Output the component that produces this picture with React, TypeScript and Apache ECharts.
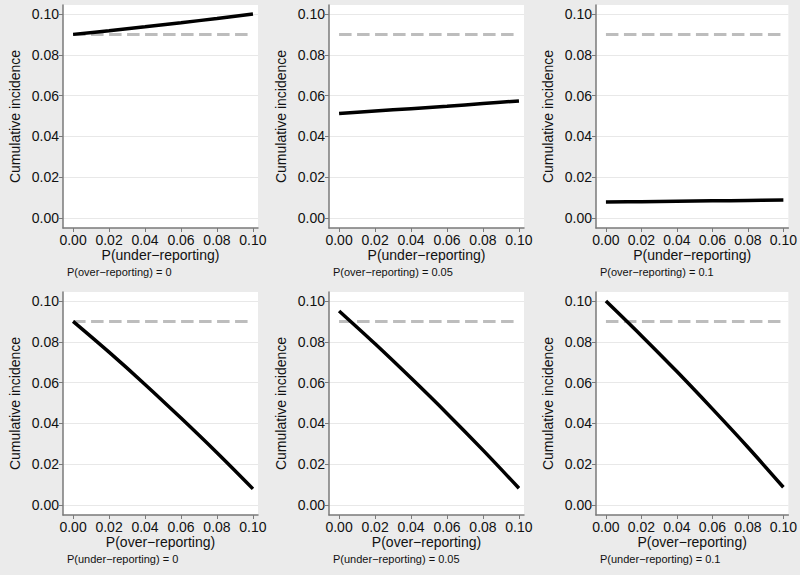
import React, { useEffect, useRef } from "react";
import * as echarts from "echarts";

// ---- data ----
const tickValues = [0, 0.02, 0.04, 0.06, 0.08, 0.1];
const pGrid = [0, 0.02, 0.04, 0.06, 0.08, 0.1];
const observedIncidence = 0.09;

// top row: x = P(under-reporting)
const overZero = [0.09, 0.0918, 0.0937, 0.0957, 0.0978, 0.1];
const overFive = [0.0512, 0.0524, 0.0536, 0.0548, 0.0561, 0.0574];
const overTen = [0.0078, 0.008, 0.0082, 0.0084, 0.0086, 0.0088];
// bottom row: x = P(over-reporting)
const underZero = [0.09, 0.0749, 0.0591, 0.0426, 0.0256, 0.0079];
const underFive = [0.0951, 0.079, 0.0622, 0.0449, 0.0269, 0.0082];
const underTen = [0.1, 0.083, 0.0654, 0.0471, 0.0283, 0.0087];

const panelSeries = [overZero, overFive, overTen, underZero, underFive, underTen];
const xNames = [
  "P(under−reporting)",
  "P(under−reporting)",
  "P(under−reporting)",
  "P(over−reporting)",
  "P(over−reporting)",
  "P(over−reporting)",
];
const notes = [
  "P(over−reporting) = 0",
  "P(over−reporting) = 0.05",
  "P(over−reporting) = 0.1",
  "P(under−reporting) = 0",
  "P(under−reporting) = 0.05",
  "P(under−reporting) = 0.1",
];
const yName = "Cumulative incidence";

// ---- layout ----
const colLeft = [63, 329, 596];
const rowTop = [5, 292];
const gridW = 195;
const gridH = 223;

const FONT = "Liberation Sans, Arial, Helvetica, sans-serif";

export default function App() {
  const ref = useRef<HTMLDivElement>(null);
  useEffect(() => {
    if (!ref.current) return;
    const chart = echarts.init(ref.current, undefined, { renderer: "svg" });
    const grids: any[] = [];
    const xAxes: any[] = [];
    const yAxes: any[] = [];
    const series: any[] = [];
    const titles: any[] = [];
    panelSeries.forEach((vals, i) => {
      const r = Math.floor(i / 3);
      const c = i % 3;
      grids.push({
        left: colLeft[c],
        top: rowTop[r],
        width: gridW,
        height: gridH,
        show: true,
        backgroundColor: "#ffffff",
        borderWidth: 0,
        containLabel: false,
      });
      xAxes.push({
        type: "value",
        gridIndex: i,
        min: -0.0056,
        max: 0.1028,
        name: xNames[i],
        nameLocation: "middle",
        nameGap: 18,
        nameTextStyle: { fontSize: 14, color: "#111", fontFamily: FONT, lineHeight: 14 },
        axisLine: { show: true, onZero: false, lineStyle: { color: "#7a7a7a", width: 1.5 } },
        axisTick: { show: true, length: 4, customValues: tickValues, lineStyle: { color: "#7a7a7a", width: 1 } },
        axisLabel: {
          customValues: tickValues,
          formatter: (v: number) => v.toFixed(2),
          fontSize: 14,
          color: "#111",
          fontFamily: FONT,
          margin: 5,
        },
        splitLine: { show: false },
      });
      yAxes.push({
        type: "value",
        gridIndex: i,
        min: -0.0049,
        max: 0.1044,
        name: yName,
        nameLocation: "middle",
        nameGap: 41,
        nameTextStyle: { fontSize: 14, color: "#111", fontFamily: FONT },
        axisLine: { show: true, onZero: false, lineStyle: { color: "#7a7a7a", width: 1.5 } },
        axisTick: { show: true, length: 4, customValues: tickValues, lineStyle: { color: "#7a7a7a", width: 1 } },
        axisLabel: {
          customValues: tickValues,
          formatter: (v: number) => v.toFixed(2),
          fontSize: 14,
          color: "#111",
          fontFamily: FONT,
          margin: 4,
        },
        splitLine: { show: true, lineStyle: { color: "#e8e8e8", width: 1 } },
      });
      series.push({
        type: "line",
        xAxisIndex: i,
        yAxisIndex: i,
        data: [
          [pGrid[0], observedIncidence],
          [pGrid[pGrid.length - 1], observedIncidence],
        ],
        showSymbol: false,
        silent: true,
        lineStyle: { color: "#bdbdbd", width: 3, type: [12.5, 5.5] },
        z: 2,
      });
      series.push({
        type: "line",
        xAxisIndex: i,
        yAxisIndex: i,
        data: pGrid.map((x, k) => [x, vals[k]]),
        showSymbol: false,
        silent: true,
        smooth: 0.35,
        lineStyle: { color: "#000", width: 3.5 },
        z: 3,
      });
      titles.push({
        text: notes[i],
        left: colLeft[c] + 4,
        top: rowTop[r] + gridH + 38,
        textStyle: { fontSize: 11, fontWeight: "normal", color: "#111", fontFamily: FONT },
        padding: 0,
      });
    });
    chart.setOption({
      animation: false,
      backgroundColor: "#ebebeb",
      title: titles,
      grid: grids,
      xAxis: xAxes,
      yAxis: yAxes,
      series,
    });
    return () => chart.dispose();
  }, []);
  return (
    <div
      ref={ref}
      style={{ position: "fixed", left: 0, top: 0, width: 800, height: 575 }}
    />
  );
}
